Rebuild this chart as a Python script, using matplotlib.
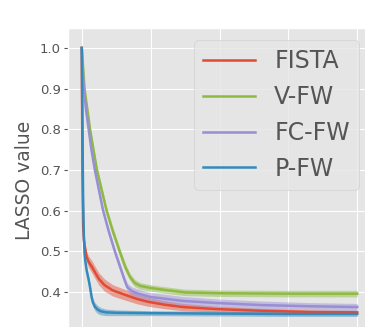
import matplotlib
matplotlib.use("Agg")
import matplotlib.pyplot as plt
import numpy as np

plt.style.use("ggplot")

# iterations and LASSO values
it_fista = [0, 1, 2, 3, 4, 7, 10, 15, 20, 25, 33, 45, 63, 80, 96, 120, 147, 196, 259, 330, 400]
fista = [1.0, 0.70, 0.56, 0.53, 0.515, 0.486, 0.474, 0.461, 0.446, 0.432, 0.417, 0.404,
         0.393, 0.383, 0.376, 0.369, 0.363, 0.358, 0.354, 0.351, 0.350]
fista_sd = [0.0, 0.01, 0.012, 0.012, 0.012, 0.013, 0.014, 0.015, 0.015, 0.015, 0.015, 0.014,
            0.013, 0.012, 0.011, 0.010, 0.009, 0.007, 0.006, 0.005, 0.005]

it_vfw = [0, 4, 8, 12, 17, 22, 29, 36, 45, 55, 63, 70, 77, 85, 100, 121, 150, 200, 300, 400]
vfw = [1.0, 0.9, 0.85, 0.8, 0.75, 0.7, 0.65, 0.6, 0.55, 0.5, 0.462, 0.437, 0.422, 0.415,
       0.410, 0.405, 0.399, 0.397, 0.396, 0.396]
vfw_sd = [0.0, 0.006, 0.007, 0.008, 0.009, 0.009, 0.010, 0.010, 0.010, 0.010, 0.010, 0.009,
          0.009, 0.008, 0.008, 0.008, 0.008, 0.008, 0.008, 0.008]

it_fcfw = [0, 1, 3, 6, 10, 14, 19, 25, 31, 39, 48, 56, 62, 66, 72, 80, 99, 147, 196, 259, 330, 400]
fcfw = [1.0, 0.96, 0.9, 0.85, 0.8, 0.75, 0.7, 0.65, 0.6, 0.55, 0.5, 0.46, 0.43, 0.412,
        0.403, 0.397, 0.388, 0.378, 0.373, 0.368, 0.365, 0.363]
fcfw_sd = [0.0, 0.004, 0.005, 0.006, 0.007, 0.008, 0.008, 0.008, 0.008, 0.008, 0.008, 0.009,
           0.009, 0.010, 0.010, 0.011, 0.011, 0.011, 0.010, 0.010, 0.009, 0.009]

it_pfw = [0, 1, 2, 3, 4, 5, 7, 10, 12, 14, 16, 19, 23, 27, 35, 50, 100, 200, 300, 400]
pfw = [1.0, 0.80, 0.62, 0.54, 0.496, 0.478, 0.454, 0.43, 0.412, 0.39, 0.375, 0.364, 0.357,
       0.353, 0.350, 0.349, 0.348, 0.347, 0.346, 0.346]
pfw_sd = [0.0, 0.005, 0.006, 0.006, 0.006, 0.006, 0.007, 0.008, 0.009, 0.010, 0.010, 0.010,
          0.010, 0.009, 0.008, 0.007, 0.006, 0.006, 0.006, 0.006]

labels = ["FISTA", "V-FW", "FC-FW", "P-FW"]
colors = ["#E24A33", "#8EBA42", "#988ED5", "#348ABD"]
series = [(it_fista, fista, fista_sd), (it_vfw, vfw, vfw_sd),
          (it_fcfw, fcfw, fcfw_sd), (it_pfw, pfw, pfw_sd)]

fig = plt.figure(figsize=(3.65, 3.27), dpi=100)
ax = fig.add_axes([68 / 365, -5.7 / 327, 303 / 365, 304.7 / 327])

for (xs, ys, sd), lab, c in zip(series, labels, colors):
    xs = np.array(xs)
    ys = np.array(ys)
    sd = np.array(sd)
    ax.fill_between(xs, ys - sd, ys + sd, color=c, alpha=0.45, linewidth=0)
    ax.plot(xs, ys, color=c, lw=1.8, label=lab)

ax.set_xlim(-20, 420)
ax.set_ylim(0.30, 1.049)
ax.set_xticks([0, 100, 200, 300, 400])
ax.set_yticks([0.4, 0.5, 0.6, 0.7, 0.8, 0.9, 1.0])
ax.tick_params(axis="x", labelbottom=False, length=0)
ax.tick_params(axis="y", labelsize=9.5, length=3, pad=2)
ax.set_ylabel("LASSO value", fontsize=13.5, color="#555555", labelpad=4)

ax.legend(loc="upper right", fontsize=17, handlelength=2.2, labelcolor="#555555")

fig.savefig("out.png", dpi=100)
